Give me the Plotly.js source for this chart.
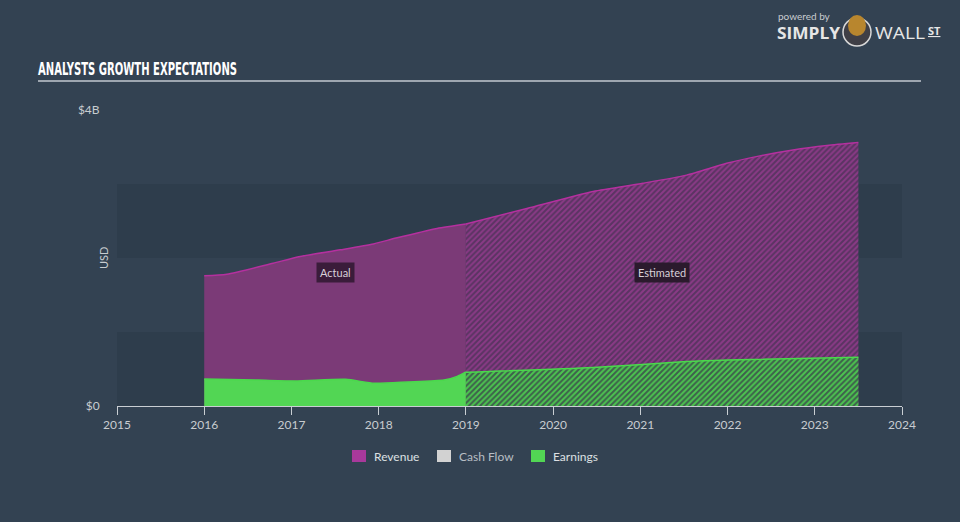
<!DOCTYPE html>
<html>
<head>
<meta charset="utf-8">
<script src="https://cdn.plot.ly/plotly-3.0.1.min.js"></script>
<style>
html,body{margin:0;padding:0;background:#334252;}
#chart{width:960px;height:522px;}
</style>
</head>
<body>
<div id="chart"></div>
<script>
// ---- data (years as decimals, values in $B) ----
var revActualX = [2016.0, 2016.26, 2016.79, 2017.10, 2017.56, 2017.94, 2018.2, 2018.67, 2019.0];
var revActualY = [1.76, 1.78, 1.93, 2.02, 2.11, 2.19, 2.27, 2.40, 2.46];
var revEstX = [2019.0, 2019.70, 2020.46, 2021.03, 2021.53, 2021.99, 2022.37, 2022.75, 2023.14, 2023.5];
var revEstY = [2.46, 2.67, 2.90, 3.01, 3.12, 3.28, 3.38, 3.46, 3.52, 3.56];
var earnActualX = [2016.0, 2016.62, 2017.05, 2017.62, 2017.95, 2018.33, 2018.75, 2018.9, 2019.0];
var earnActualY = [0.365, 0.35, 0.338, 0.36, 0.307, 0.324, 0.35, 0.40, 0.46];
var earnEstX = [2019.0, 2020.46, 2021.53, 2022.0, 2023.5];
var earnEstY = [0.455, 0.52, 0.60, 0.62, 0.66];
var xTicks = [2015, 2016, 2017, 2018, 2019, 2020, 2021, 2022, 2023, 2024];
var yTickVals = [0, 4];
var yTickText = ['$0', '$4B'];
var legendNames = ['Revenue', 'Cash Flow', 'Earnings'];
var legendColors = ['#a8399b', '#d2d2d2', '#52d654'];

// plot area in pixels
var L = 117, R = 902, T = 110, B = 406;
function px(x){ return (x - L) / (R - L); }
function py(y){ return (B - y) / (B - T); }

var FONT = 'Lato, "Open Sans", sans-serif';

var traces = [
  {x: revActualX, y: revActualY, type: 'scatter', mode: 'lines', fill: 'tozeroy',
   fillcolor: '#7b3a77', line: {color: '#b5309f', width: 1.5, shape: 'spline', smoothing: 0.6},
   hoverinfo: 'skip', showlegend: false},
  {x: revEstX, y: revEstY, type: 'scatter', mode: 'lines', fill: 'tozeroy',
   fillcolor: '#5b3560',
   fillpattern: {shape: '/', bgcolor: '#5a3462', fgcolor: '#8a3a86', size: 4, solidity: 0.5},
   line: {color: '#b5309f', width: 1.5, shape: 'spline', smoothing: 0.6},
   hoverinfo: 'skip', showlegend: false},
  {x: earnActualX, y: earnActualY, type: 'scatter', mode: 'lines', fill: 'tozeroy',
   fillcolor: '#52d654', line: {color: '#4ad94c', width: 1.5, shape: 'spline', smoothing: 0.6},
   hoverinfo: 'skip', showlegend: false},
  {x: earnEstX, y: earnEstY, type: 'scatter', mode: 'lines', fill: 'tozeroy',
   fillcolor: '#3d5e4a',
   fillpattern: {shape: '/', bgcolor: '#3e5f4c', fgcolor: '#4cc54f', size: 4, solidity: 0.5},
   line: {color: '#4ad94c', width: 1.5, shape: 'spline', smoothing: 0.6},
   hoverinfo: 'skip', showlegend: false}
];

var shapes = [
  {type: 'rect', xref: 'paper', yref: 'y', x0: 0, x1: 1, y0: 0, y1: 1, fillcolor: '#2e3d4c', line: {width: 0}, layer: 'below'},
  {type: 'rect', xref: 'paper', yref: 'y', x0: 0, x1: 1, y0: 2, y1: 3, fillcolor: '#2e3d4c', line: {width: 0}, layer: 'below'},
  {type: 'line', xref: 'paper', yref: 'paper', x0: px(38), x1: px(921), y0: py(81), y1: py(81), line: {color: '#9ea6b0', width: 2}},
  // logo icon
  {type: 'circle', xref: 'paper', yref: 'paper', x0: px(843), x1: px(871), y0: py(46), y1: py(18), fillcolor: '#3f3f46', line: {color: '#d8d8d8', width: 1.5}},
  {type: 'circle', xref: 'paper', yref: 'paper', x0: px(848), x1: px(866), y0: py(36), y1: py(15), fillcolor: '#b8862e', line: {width: 0}}
];

var TITLE = 'ANALYSTS GROWTH EXPECTATIONS';
var annotations = [
  {text: '<b>' + TITLE + '</b>', xref: 'paper', yref: 'paper', x: px(37), y: py(68),
   xanchor: 'left', yanchor: 'middle', showarrow: false,
   font: {family: '"DejaVu Sans", sans-serif', size: 18, color: '#ffffff'}},
  {text: 'powered by', xref: 'paper', yref: 'paper', x: px(776), y: py(16), xanchor: 'left', yanchor: 'middle', showarrow: false,
   font: {family: FONT, size: 10, color: '#c8ccd0'}},
  {text: '<b>SIMPLY</b>', xref: 'paper', yref: 'paper', x: px(775), y: py(33), xanchor: 'left', yanchor: 'middle', showarrow: false,
   font: {family: '"Open Sans", sans-serif', size: 16, color: '#e6e6e6'}},
  {text: 'WALL', xref: 'paper', yref: 'paper', x: px(873), y: py(33), xanchor: 'left', yanchor: 'middle', showarrow: false,
   font: {family: '"Open Sans", sans-serif', size: 16, color: '#e6e6e6'}},
  {text: '<b><u>ST</u></b>', xref: 'paper', yref: 'paper', x: px(926), y: py(30), xanchor: 'left', yanchor: 'middle', showarrow: false,
   font: {family: '"Open Sans", sans-serif', size: 11, color: '#e6e6e6'}},
  {text: 'USD', xref: 'paper', yref: 'paper', x: px(103), y: py(258), xanchor: 'center', yanchor: 'middle', textangle: -90, showarrow: false,
   font: {family: FONT, size: 11, color: '#c8ccd0'}},
  {text: 'Actual', x: 2017.5, y: 1.81, xanchor: 'center', yanchor: 'middle', showarrow: false,
   bgcolor: '#3a1c3a', borderpad: 3, font: {family: FONT, size: 11, color: '#d8d0d8'}},
  {text: 'Estimated', x: 2021.25, y: 1.81, xanchor: 'center', yanchor: 'middle', showarrow: false,
   bgcolor: '#2b1a2d', borderpad: 3, font: {family: FONT, size: 11, color: '#d8d0d8'}}
];

// manual legend
var legX = [352, 437, 531];
for (var i = 0; i < legendNames.length; i++) {
  shapes.push({type: 'rect', xref: 'paper', yref: 'paper', x0: px(legX[i]), x1: px(legX[i] + 14),
    y0: py(462), y1: py(450), fillcolor: legendColors[i], line: {width: 0}});
  annotations.push({text: legendNames[i], xref: 'paper', yref: 'paper', x: px(legX[i] + 20), y: py(456),
    xanchor: 'left', yanchor: 'middle', showarrow: false,
    font: {family: FONT, size: 12, color: i === 1 ? '#b8bec4' : '#dde0e3'}});
}

var layout = {
  width: 960, height: 522,
  margin: {l: L, r: 960 - R, t: T, b: 522 - B, pad: 0},
  paper_bgcolor: '#334252', plot_bgcolor: 'rgba(0,0,0,0)',
  showlegend: false,
  xaxis: {range: [2015, 2024], tickvals: xTicks, ticktext: xTicks.map(String),
    showgrid: false, zeroline: false, showline: true, linecolor: '#c9ced3', linewidth: 1,
    ticks: 'outside', ticklen: 8, tickcolor: '#c9ced3', tickwidth: 1,
    tickfont: {family: FONT, size: 12, color: '#c8ccd0'}, fixedrange: true},
  yaxis: {range: [0, 4], tickvals: yTickVals, ticktext: yTickText,
    showgrid: false, zeroline: false, showline: false,
    ticks: 'outside', ticklen: 14, tickcolor: 'rgba(0,0,0,0)',
    tickfont: {family: FONT, size: 12, color: '#c8ccd0'}, fixedrange: true},
  shapes: shapes,
  annotations: annotations,
  hovermode: false
};

Plotly.newPlot('chart', traces, layout, {displayModeBar: false, staticPlot: true}).then(function(gd){
  // condense the headline and logo words to the reference widths / left edges
  var fits = {};
  fits[TITLE] = [199, 38];
  fits['SIMPLY'] = [63, 777];
  fits['WALL'] = [50, 875];
  var texts = gd.querySelectorAll('.annotation-text');
  for (var k = 0; k < texts.length; k++) {
    var t = texts[k];
    var f = fits[t.textContent];
    if (f) {
      t.setAttribute('textLength', f[0]);
      t.setAttribute('lengthAdjust', 'spacingAndGlyphs');
      var r = t.getBoundingClientRect();
      var x0 = parseFloat(t.getAttribute('x')) || 0;
      t.setAttribute('x', x0 + (f[1] - r.left));
    }
  }
});
</script>
</body>
</html>
